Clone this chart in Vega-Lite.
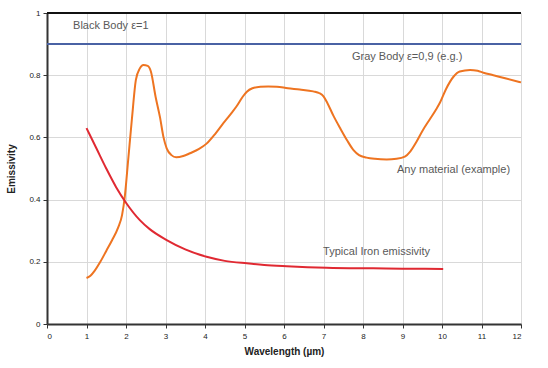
{
  "$schema": "https://vega.github.io/schema/vega-lite/v6.json",
  "width": 474,
  "height": 311,
  "autosize": {"type": "none"},
  "padding": {"left": 47, "top": 13, "right": 27, "bottom": 44},
  "background": "white",
  "config": {
    "view": {"stroke": null},
    "axis": {
      "gridColor": "#d9d9d9",
      "gridWidth": 1,
      "domainColor": "#333333",
      "domainWidth": 2,
      "tickColor": "#333333",
      "labelFont": "Liberation Sans",
      "labelFontSize": 8,
      "labelColor": "#222222",
      "labelOverlap": false,
      "titleFont": "Liberation Sans",
      "titleFontSize": 10,
      "titleFontWeight": "bold",
      "titleColor": "#222222"
    },
    "axisX": {"tickSize": 4, "titlePadding": 6, "labelPadding": 4},
    "axisY": {"tickSize": 4, "titlePadding": 12, "labelPadding": 3}
  },
  "datasets": {
    "curves": [
      {"s": "orange", "x": 1.0, "y": 0.148}, {"s": "orange", "x": 1.1, "y": 0.155}, {"s": "orange", "x": 1.2, "y": 0.17},
      {"s": "orange", "x": 1.35, "y": 0.2}, {"s": "orange", "x": 1.5, "y": 0.235}, {"s": "orange", "x": 1.65, "y": 0.27},
      {"s": "orange", "x": 1.8, "y": 0.31}, {"s": "orange", "x": 1.9, "y": 0.35},
      {"s": "orange", "x": 1.97, "y": 0.41}, {"s": "orange", "x": 2.05, "y": 0.52}, {"s": "orange", "x": 2.15, "y": 0.66},
      {"s": "orange", "x": 2.25, "y": 0.785}, {"s": "orange", "x": 2.35, "y": 0.822}, {"s": "orange", "x": 2.44, "y": 0.833},
      {"s": "orange", "x": 2.55, "y": 0.83}, {"s": "orange", "x": 2.63, "y": 0.812}, {"s": "orange", "x": 2.75, "y": 0.73},
      {"s": "orange", "x": 2.86, "y": 0.665}, {"s": "orange", "x": 2.95, "y": 0.6}, {"s": "orange", "x": 3.03, "y": 0.565},
      {"s": "orange", "x": 3.15, "y": 0.543}, {"s": "orange", "x": 3.27, "y": 0.536}, {"s": "orange", "x": 3.45, "y": 0.54},
      {"s": "orange", "x": 3.62, "y": 0.549}, {"s": "orange", "x": 3.85, "y": 0.563}, {"s": "orange", "x": 4.04, "y": 0.58},
      {"s": "orange", "x": 4.25, "y": 0.61}, {"s": "orange", "x": 4.46, "y": 0.645}, {"s": "orange", "x": 4.65, "y": 0.675},
      {"s": "orange", "x": 4.8, "y": 0.7}, {"s": "orange", "x": 4.95, "y": 0.73}, {"s": "orange", "x": 5.06, "y": 0.747},
      {"s": "orange", "x": 5.2, "y": 0.758}, {"s": "orange", "x": 5.4, "y": 0.763}, {"s": "orange", "x": 5.6, "y": 0.764},
      {"s": "orange", "x": 5.82, "y": 0.763}, {"s": "orange", "x": 6.1, "y": 0.758}, {"s": "orange", "x": 6.4, "y": 0.754},
      {"s": "orange", "x": 6.74, "y": 0.748}, {"s": "orange", "x": 6.9, "y": 0.742}, {"s": "orange", "x": 7.0, "y": 0.732},
      {"s": "orange", "x": 7.1, "y": 0.71}, {"s": "orange", "x": 7.25, "y": 0.67}, {"s": "orange", "x": 7.42, "y": 0.63},
      {"s": "orange", "x": 7.6, "y": 0.59}, {"s": "orange", "x": 7.76, "y": 0.559}, {"s": "orange", "x": 7.9, "y": 0.543},
      {"s": "orange", "x": 8.09, "y": 0.535}, {"s": "orange", "x": 8.3, "y": 0.531}, {"s": "orange", "x": 8.6, "y": 0.529},
      {"s": "orange", "x": 8.85, "y": 0.531}, {"s": "orange", "x": 9.06, "y": 0.538}, {"s": "orange", "x": 9.2, "y": 0.555},
      {"s": "orange", "x": 9.35, "y": 0.585}, {"s": "orange", "x": 9.5, "y": 0.62}, {"s": "orange", "x": 9.7, "y": 0.66},
      {"s": "orange", "x": 9.85, "y": 0.69}, {"s": "orange", "x": 9.95, "y": 0.712}, {"s": "orange", "x": 10.1, "y": 0.755},
      {"s": "orange", "x": 10.29, "y": 0.795}, {"s": "orange", "x": 10.45, "y": 0.812}, {"s": "orange", "x": 10.71, "y": 0.817},
      {"s": "orange", "x": 10.9, "y": 0.814}, {"s": "orange", "x": 11.05, "y": 0.808}, {"s": "orange", "x": 11.3, "y": 0.8},
      {"s": "orange", "x": 11.6, "y": 0.79}, {"s": "orange", "x": 12.0, "y": 0.777},
      {"s": "red", "x": 1.0, "y": 0.63}, {"s": "red", "x": 1.25, "y": 0.565}, {"s": "red", "x": 1.5, "y": 0.5},
      {"s": "red", "x": 1.75, "y": 0.44}, {"s": "red", "x": 2.0, "y": 0.39}, {"s": "red", "x": 2.35, "y": 0.334},
      {"s": "red", "x": 2.6, "y": 0.305}, {"s": "red", "x": 3.03, "y": 0.27}, {"s": "red", "x": 3.5, "y": 0.24},
      {"s": "red", "x": 4.04, "y": 0.216}, {"s": "red", "x": 4.5, "y": 0.203}, {"s": "red", "x": 5.06, "y": 0.195},
      {"s": "red", "x": 5.5, "y": 0.19}, {"s": "red", "x": 6.07, "y": 0.186}, {"s": "red", "x": 7.08, "y": 0.181},
      {"s": "red", "x": 8.26, "y": 0.179}, {"s": "red", "x": 9.0, "y": 0.178}, {"s": "red", "x": 10.03, "y": 0.177}
    ],
    "refs": [
      {"s": "black", "y": 1.0},
      {"s": "blue", "y": 0.9}
    ],
    "labels": [
      {"t": "Black Body ε=1", "x": 0.66, "y": 0.958},
      {"t": "Gray Body ε=0,9 (e.g.)", "x": 7.72, "y": 0.858},
      {"t": "Any material (example)", "x": 8.86, "y": 0.495},
      {"t": "Typical Iron emissivity", "x": 6.99, "y": 0.232}
    ]
  },
  "layer": [
    {
      "data": {"name": "refs"},
      "mark": {"type": "rule", "strokeWidth": 2},
      "encoding": {
        "y": {"field": "y", "type": "quantitative", "scale": {"domain": [0, 1]}, "axis": {"title": "Emissivity", "format": "~g", "values": [0, 0.2, 0.4, 0.6, 0.8, 1]}},
        "color": {"field": "s", "type": "nominal", "scale": {"domain": ["black", "blue"], "range": ["#111111", "#4a62a4"]}, "legend": null}
      }
    },
    {
      "data": {"name": "curves"},
      "mark": {"type": "line", "strokeWidth": 2, "interpolate": "monotone"},
      "encoding": {
        "x": {"field": "x", "type": "quantitative", "scale": {"domain": [0, 12], "nice": false}, "axis": {"title": "Wavelength (µm)", "values": [0,1,2,3,4,5,6,7,8,9,10,11,12]}},
        "y": {"field": "y", "type": "quantitative", "axis": {"title": "Emissivity", "format": "~g", "values": [0, 0.2, 0.4, 0.6, 0.8, 1]}},
        "stroke": {"field": "s", "type": "nominal", "scale": {"domain": ["orange", "red"], "range": ["#ee7421", "#e02932"]}, "legend": null},
        "detail": {"field": "s"}
      }
    },
    {
      "data": {"name": "labels"},
      "mark": {"type": "text", "align": "left", "baseline": "middle", "font": "Liberation Sans", "fontSize": 11, "color": "#595959"},
      "encoding": {
        "x": {"field": "x", "type": "quantitative", "axis": {"title": "Wavelength (µm)", "values": [0,1,2,3,4,5,6,7,8,9,10,11,12]}},
        "y": {"field": "y", "type": "quantitative", "axis": {"title": "Emissivity", "format": "~g", "values": [0, 0.2, 0.4, 0.6, 0.8, 1]}},
        "text": {"field": "t"}
      }
    }
  ],
  "resolve": {"scale": {"color": "independent"}}
}
